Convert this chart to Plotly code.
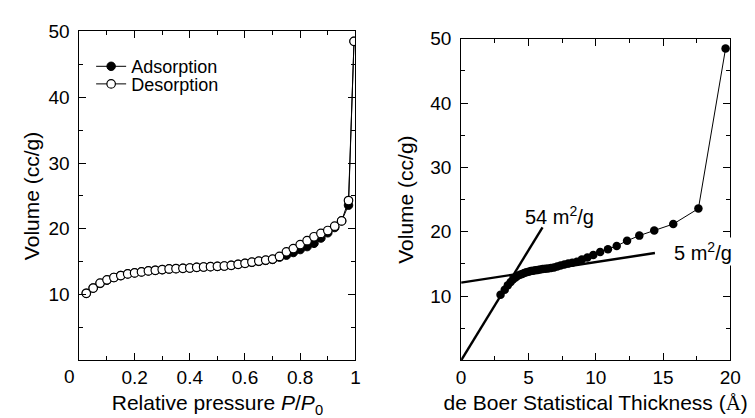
import plotly.graph_objects as go

# ---- Data ----
p_ads = [0.025, 0.05, 0.075, 0.10, 0.125, 0.15, 0.175, 0.20, 0.225, 0.25,
         0.275, 0.30, 0.325, 0.35, 0.375, 0.40, 0.425, 0.45, 0.475, 0.50,
         0.525, 0.55, 0.575, 0.60, 0.625, 0.65, 0.675, 0.70, 0.725, 0.75,
         0.775, 0.80, 0.825, 0.85, 0.875, 0.90, 0.925, 0.95, 0.975, 0.995]
v_ads = [10.2, 11.0, 11.7, 12.2, 12.6, 12.9, 13.15, 13.3, 13.45, 13.6,
         13.7, 13.8, 13.9, 13.95, 14.0, 14.05, 14.15, 14.2, 14.25, 14.3,
         14.35, 14.45, 14.6, 14.75, 14.9, 15.05, 15.2, 15.35, 15.7, 16.0,
         16.4, 16.85, 17.3, 17.8, 18.6, 19.4, 20.2, 21.2, 23.6, 48.5]
t_ads = [2.93, 3.24, 3.47, 3.68, 3.86, 4.04, 4.21, 4.37, 4.53, 4.69,
         4.85, 5.01, 5.18, 5.34, 5.52, 5.69, 5.87, 6.06, 6.26, 6.46,
         6.68, 6.90, 7.14, 7.39, 7.67, 7.96, 8.26, 8.60, 8.97, 9.38,
         9.82, 10.33, 10.91, 11.56, 12.33, 13.24, 14.35, 15.76, 17.63, 19.65]

p_des = [0.025, 0.05, 0.075, 0.10, 0.125, 0.15, 0.175, 0.20, 0.225, 0.25,
         0.275, 0.30, 0.325, 0.35, 0.375, 0.40, 0.425, 0.45, 0.475, 0.50,
         0.525, 0.55, 0.575, 0.60, 0.625, 0.65, 0.675, 0.70, 0.725, 0.75,
         0.775, 0.80, 0.825, 0.85, 0.875, 0.90, 0.925, 0.95, 0.975, 0.995]
v_des = [10.2, 11.0, 11.75, 12.25, 12.6, 12.9, 13.15, 13.3, 13.45, 13.6,
         13.7, 13.8, 13.9, 13.95, 14.0, 14.05, 14.15, 14.2, 14.25, 14.3,
         14.35, 14.45, 14.6, 14.75, 14.95, 15.1, 15.25, 15.4, 15.8, 16.5,
         17.0, 17.6, 18.2, 18.8, 19.3, 19.75, 20.4, 21.2, 24.3, 48.5]

fit54_t = [0, 6.05]
fit54_v = [0, 20.7]
fit5_t = [0, 14.4]
fit5_v = [12.1, 16.7]

left_xticks = [0.2, 0.4, 0.6, 0.8, 1.0]
left_xlabels = ["0.2", "0.4", "0.6", "0.8", "1"]
y_ticks = [10, 20, 30, 40, 50]
right_xticks = [0, 5, 10, 15, 20]

FONT = "Liberation Sans, Arial, Helvetica, sans-serif"
W, H = 755, 418

fig = go.Figure()

# Left panel
fig.add_trace(go.Scatter(
    x=p_ads, y=v_ads, mode="lines+markers", name="Adsorption",
    line=dict(color="black", width=1),
    marker=dict(symbol="circle", size=8.5, color="black",
                line=dict(color="black", width=1)),
    xaxis="x", yaxis="y", legend="legend"))
fig.add_trace(go.Scatter(
    x=p_des, y=v_des, mode="lines+markers", name="Desorption",
    line=dict(color="black", width=1),
    marker=dict(symbol="circle", size=8.5, color="white",
                line=dict(color="black", width=1.2)),
    xaxis="x", yaxis="y", legend="legend2"))

# Right panel
fig.add_trace(go.Scatter(
    x=fit54_t, y=fit54_v, mode="lines", showlegend=False,
    line=dict(color="black", width=2.4), xaxis="x2", yaxis="y2"))
fig.add_trace(go.Scatter(
    x=fit5_t, y=fit5_v, mode="lines", showlegend=False,
    line=dict(color="black", width=2.4), xaxis="x2", yaxis="y2"))
fig.add_trace(go.Scatter(
    x=t_ads, y=v_ads, mode="lines+markers", showlegend=False,
    line=dict(color="black", width=1),
    marker=dict(symbol="circle", size=8.5, color="black"),
    xaxis="x2", yaxis="y2"))

axis_common = dict(
    showline=True, linecolor="black", linewidth=1, mirror="allticks",
    ticks="inside", ticklen=7, tickwidth=1, tickcolor="black",
    showgrid=False, zeroline=False,
    tickfont=dict(family=FONT, size=19, color="black"),
)

legend_common = dict(xanchor="left", yanchor="middle",
                     bgcolor="rgba(0,0,0,0)", borderwidth=0,
                     font=dict(family=FONT, size=18, color="black"))

fig.update_layout(
    width=W, height=H,
    margin=dict(l=0, r=0, t=0, b=0),
    paper_bgcolor="white", plot_bgcolor="white",
    font=dict(family=FONT, color="black"),
    xaxis=dict(domain=[76 / W, 358 / W], range=[0, 1], anchor="y",
               tickvals=left_xticks, ticktext=left_xlabels,
               minor=dict(dtick=0.1, tick0=0, ticklen=4, ticks="inside",
                          tickcolor="black", tickwidth=1),
               title=dict(text="Relative pressure <i>P</i>/<i>P</i><sub>0</sub>",
                          font=dict(size=21), standoff=8),
               **axis_common),
    yaxis=dict(domain=[1 - 359 / H, 1 - 22 / H], range=[0, 50], anchor="x",
               tickvals=y_ticks, ticklabelstandoff=5,
               minor=dict(dtick=5, tick0=0, ticklen=4, ticks="inside",
                          tickcolor="black", tickwidth=1),
               title=dict(text="Volume (cc/g)", font=dict(size=21), standoff=3),
               **axis_common),
    xaxis2=dict(domain=[466 / W, 741 / W], range=[0, 20], anchor="y2",
                tickvals=right_xticks,
                minor=dict(dtick=2.5, tick0=0, ticklen=4, ticks="inside",
                           tickcolor="black", tickwidth=1),
                title=dict(text="de Boer Statistical Thickness (<span style=\"font-family:'Liberation Serif'\">Å</span>)",
                           font=dict(size=21), standoff=8),
                **axis_common),
    yaxis2=dict(domain=[1 - 359 / H, 1 - 29.5 / H], range=[0, 50], anchor="x2",
                tickvals=y_ticks, ticklabelstandoff=5,
                minor=dict(dtick=5, tick0=0, ticklen=4, ticks="inside",
                           tickcolor="black", tickwidth=1),
                title=dict(text="Volume (cc/g)", font=dict(size=21), standoff=10),
                **axis_common),
    legend=dict(x=88 / W, y=1 - 58 / H, **legend_common),
    legend2=dict(x=88 / W, y=1 - 76 / H, **legend_common),
    annotations=[
        dict(text="0", x=0, y=0, xref="x", yref="y", xanchor="center",
             yanchor="top", xshift=-10, yshift=-4, showarrow=False,
             font=dict(family=FONT, size=19, color="black")),
        dict(text="54 m<sup>2</sup>/g", x=7.3, y=22.6, xref="x2", yref="y2",
             showarrow=False, font=dict(family=FONT, size=20, color="black")),
        dict(text="5 m<sup>2</sup>/g", x=18.0, y=17.0, xref="x2", yref="y2",
             showarrow=False, bgcolor="white",
             font=dict(family=FONT, size=20, color="black")),
    ],
)

fig.write_html("out.html")
